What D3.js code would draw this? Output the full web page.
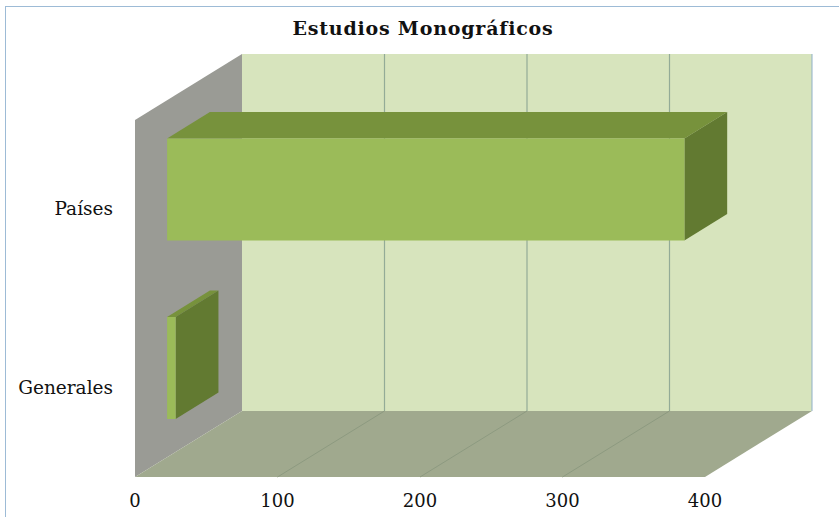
<!DOCTYPE html>
<html>
<head>
<meta charset="utf-8">
<style>
  body { margin: 0; background: #fff; }
  svg { display: block; }
  .lbl { font-family: "DejaVu Serif", serif; fill: #111; }
</style>
<script src="https://d3js.org/d3.v7.min.js"></script>
</head>
<body>
<svg width="839" height="517"></svg>
<script>
// data
const categories = ["Países", "Generales"];
const values = [363, 6];
const tickValues = [0, 100, 200, 300, 400];
const title = "Estudios Monográficos";

const svg = d3.select("svg");

// front plane of the 3D box, plus depth offset
const x = d3.scaleLinear().domain([0, 400]).range([135, 705]);
const y = d3.scaleBand().domain(categories).range([120, 477])
    .paddingInner(0.4286).paddingOuter(0.2143);
const depth = [107, -66];
const yTop = 120, yBot = 477;

// project (value, y in front plane, depth fraction) to screen
function P(v, yy, f) {
    return [x(v) + depth[0] * f, yy + depth[1] * f];
}
const line = d3.line();
function poly(pts) { return line(pts) + "Z"; }

// outer frame
svg.append("rect")
    .attr("x", 5.5).attr("y", 6.5).attr("width", 850).attr("height", 530)
    .attr("fill", "#fff").attr("stroke", "#9dbbd6").attr("stroke-width", 1);

// side wall
svg.append("path")
    .attr("d", poly([P(0, yTop, 0), P(0, yTop, 1), P(0, yBot, 1), P(0, yBot, 0)]))
    .attr("fill", "#9a9b95");

// back wall
svg.append("path")
    .attr("d", poly([P(0, yTop, 1), P(400, yTop, 1), P(400, yBot, 1), P(0, yBot, 1)]))
    .attr("fill", "#d7e4bd");
svg.append("line")
    .attr("x1", P(400, yTop, 1)[0]).attr("y1", P(400, yTop, 1)[1])
    .attr("x2", P(400, yBot, 1)[0]).attr("y2", P(400, yBot, 1)[1])
    .attr("stroke", "#8fb0c8").attr("stroke-width", 1);

// floor
svg.append("path")
    .attr("d", poly([P(0, yBot, 0), P(0, yBot, 1), P(400, yBot, 1), P(400, yBot, 0)]))
    .attr("fill", "#a0a98e");

// gridlines on the back wall and the floor
const inner = tickValues.filter(t => t > 0 && t < 400);
svg.append("g").selectAll("line").data(inner).join("line")
    .attr("x1", d => P(d, yTop, 1)[0]).attr("y1", P(0, yTop, 1)[1])
    .attr("x2", d => P(d, yBot, 1)[0]).attr("y2", P(0, yBot, 1)[1])
    .attr("stroke", "#93ab97").attr("stroke-width", 1.2);
svg.append("g").selectAll("line").data(inner).join("line")
    .attr("x1", d => P(d, yBot, 0)[0]).attr("y1", d => P(d, yBot, 0)[1])
    .attr("x2", d => P(d, yBot, 1)[0]).attr("y2", d => P(d, yBot, 1)[1])
    .attr("stroke", "#8d9a80").attr("stroke-width", 1);

// bars
const f0 = 0.3, f1 = 0.7;
const bars = svg.append("g").selectAll("g").data(categories).join("g");
bars.each(function (c, i) {
    const g = d3.select(this);
    const v = values[i];
    const a = y(c), b = y(c) + y.bandwidth();
    // top face
    g.append("path")
        .attr("d", poly([P(0, a, f0), P(0, a, f1), P(v, a, f1), P(v, a, f0)]))
        .attr("fill", "#77923c");
    // right face
    g.append("path")
        .attr("d", poly([P(v, a, f0), P(v, a, f1), P(v, b, f1), P(v, b, f0)]))
        .attr("fill", "#627a31");
    // front face
    g.append("path")
        .attr("d", poly([P(0, a, f0), P(v, a, f0), P(v, b, f0), P(0, b, f0)]))
        .attr("fill", "#9bbb59");
});

// category labels
svg.append("g").selectAll("text").data(categories).join("text")
    .attr("class", "lbl")
    .attr("x", 113)
    .attr("y", d => y(d) + y.bandwidth() / 2 + 6)
    .attr("text-anchor", "end")
    .attr("font-size", 18.5)
    .text(d => d);

// value axis labels
svg.append("g").selectAll("text").data(tickValues).join("text")
    .attr("class", "lbl")
    .attr("x", d => x(d))
    .attr("y", 507)
    .attr("text-anchor", "middle")
    .attr("font-size", 18)
    .text(d => d);

// title
svg.append("text")
    .attr("class", "lbl")
    .attr("x", 423).attr("y", 35)
    .attr("text-anchor", "middle")
    .attr("font-size", 19).attr("font-weight", "bold")
    .attr("letter-spacing", 0.8)
    .text(title);
</script>
</body>
</html>
